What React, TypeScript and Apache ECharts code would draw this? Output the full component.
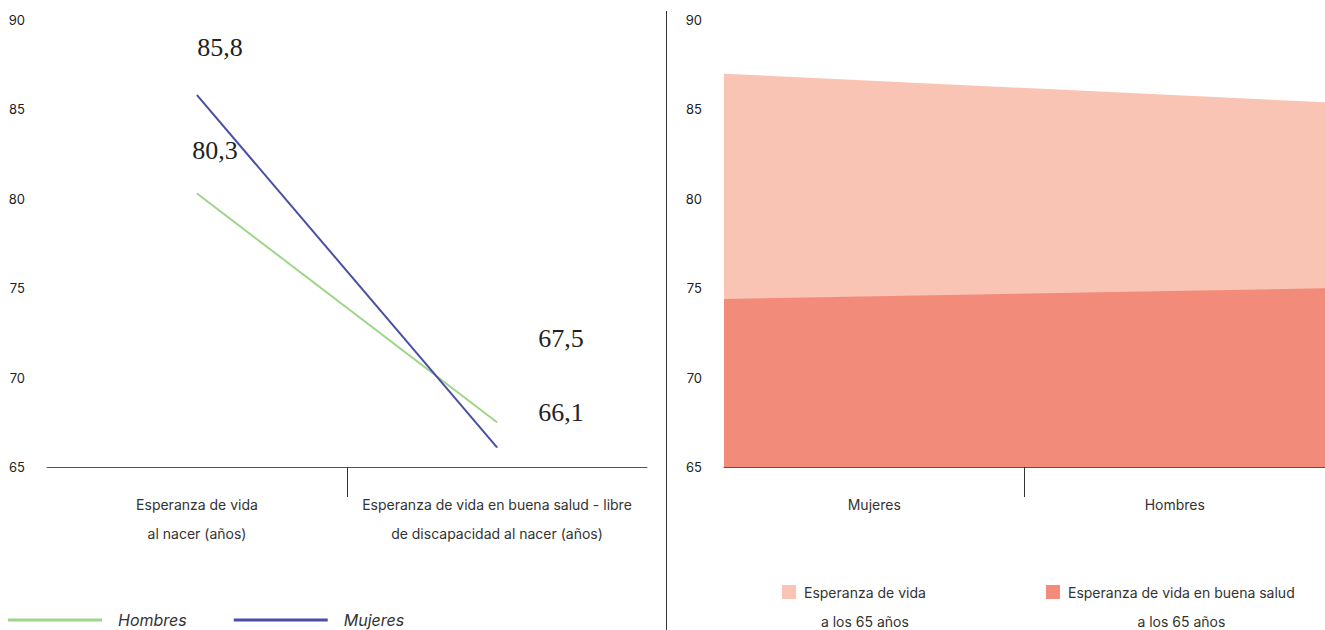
import React, { useEffect, useRef } from "react";
import * as echarts from "echarts";

// Left panel: life expectancy at birth, by sex
const birthCategories = [
  "Esperanza de vida\nal nacer (años)",
  "Esperanza de vida en buena salud - libre\nde discapacidad al nacer (años)",
];
const hombres = [80.3, 67.5];
const mujeres = [85.8, 66.1];

// Right panel: life expectancy at 65, by sex
const sexCategories = ["Mujeres", "Hombres"];
const esperanza65 = [87.0, 85.4];
const buenaSalud65 = [74.4, 75.0];

const yTicks = { min: 65, max: 90, interval: 5 };

const esperanzaName = "Esperanza de vida\na los 65 años";
const saludName = "Esperanza de vida en buena salud\na los 65 años";

// label offsets (px) for the value labels of each line, start and end
const hombresLabelOffsets = [
  [18, -43],
  [64, -84],
];
const mujeresLabelOffsets = [
  [23, -48],
  [64, -35],
];

const SANS = "Inter, 'Noto Sans', sans-serif";
const SERIF = "'Liberation Serif', 'DejaVu Serif', serif";
const GREEN = "#9fd58b";
const BLUE = "#4a4fa5";
const LIGHT = "#f9c4b4";
const DARK = "#f38b7b";

const fmt = (v: number) => String(v).replace(".", ",");

function withLabels(values: number[], offsets: number[][]) {
  return values.map((v, i) => ({
    value: v,
    label: {
      show: true,
      position: "inside",
      offset: offsets[i],
      formatter: () => fmt(v),
      fontFamily: SERIF,
      fontSize: 26,
      color: "#222",
    },
  }));
}

function yAxis(gridIndex: number) {
  return {
    type: "value",
    gridIndex,
    ...yTicks,
    axisLine: { show: false },
    axisTick: { show: false },
    splitLine: { show: false },
    axisLabel: { fontFamily: SANS, fontSize: 13, color: "#222", margin: 22 },
  };
}

function labelAxis(gridIndex: number, data: string[]) {
  return {
    type: "category",
    gridIndex,
    data,
    position: "bottom",
    boundaryGap: true,
    axisLine: { onZero: false, lineStyle: { color: "#555", width: 1 } },
    axisTick: { show: false },
    axisLabel: {
      fontFamily: SANS,
      fontSize: 14,
      color: "#333",
      lineHeight: 29,
      margin: 23,
      interval: 0,
    },
  };
}

// hidden value axis that only draws the middle divider tick
function tickAxis(gridIndex: number) {
  return {
    type: "value",
    gridIndex,
    min: 0,
    max: 2,
    position: "bottom",
    axisLine: { show: false, onZero: false },
    axisLabel: { show: false },
    splitLine: { show: false },
    axisTick: {
      show: true,
      customValues: [1],
      length: 30,
      lineStyle: { color: "#333", width: 1 },
    },
  };
}

const legendRich = {
  a: { align: "center", lineHeight: 29, fontFamily: SANS, fontSize: 14, color: "#333" },
};
const legendFormatter = (name: string) =>
  name
    .split("\n")
    .map((s) => `{a|${s}}`)
    .join("\n");

export default function App() {
  const ref = useRef<HTMLDivElement>(null);

  useEffect(() => {
    if (!ref.current) return;
    const chart = echarts.init(ref.current, null, { renderer: "svg" });
    chart.setOption({
      animation: false,
      backgroundColor: "#fff",
      grid: [
        { left: 47, top: 20, width: 600, height: 447 },
        { left: 724, top: 20, width: 601, height: 447 },
      ],
      xAxis: [
        labelAxis(0, birthCategories),
        tickAxis(0),
        labelAxis(1, sexCategories),
        {
          type: "category",
          gridIndex: 1,
          data: sexCategories,
          boundaryGap: false,
          position: "bottom",
          show: false,
        },
        tickAxis(1),
      ],
      yAxis: [yAxis(0), yAxis(1)],
      legend: [
        {
          data: ["Hombres", "Mujeres"],
          left: 3,
          top: 607,
          icon: "rect",
          itemWidth: 94,
          itemHeight: 3,
          itemGap: 47,
          textStyle: {
            fontFamily: SANS,
            fontSize: 16,
            fontStyle: "italic",
            color: "#333",
            padding: [0, 0, 0, 11],
          },
        },
        {
          data: [esperanzaName],
          left: 777,
          top: 580,
          icon: "rect",
          itemWidth: 14,
          itemHeight: 14,
          formatter: legendFormatter,
          textStyle: { padding: [29, 0, 0, 3], rich: legendRich },
        },
        {
          data: [saludName],
          left: 1041,
          top: 580,
          icon: "rect",
          itemWidth: 14,
          itemHeight: 14,
          formatter: legendFormatter,
          textStyle: { padding: [29, 0, 0, 3], rich: legendRich },
        },
      ],
      graphic: [
        {
          type: "line",
          shape: { x1: 666.5, y1: 11, x2: 666.5, y2: 630 },
          style: { stroke: "#333", lineWidth: 1 },
          silent: true,
        },
      ],
      series: [
        {
          name: "Hombres",
          type: "line",
          xAxisIndex: 0,
          yAxisIndex: 0,
          data: withLabels(hombres, hombresLabelOffsets),
          symbol: "circle",
          symbolSize: 1,
          itemStyle: { color: GREEN },
          lineStyle: { color: GREEN, width: 2 },
        },
        {
          name: "Mujeres",
          type: "line",
          xAxisIndex: 0,
          yAxisIndex: 0,
          data: withLabels(mujeres, mujeresLabelOffsets),
          symbol: "circle",
          symbolSize: 1,
          itemStyle: { color: BLUE },
          lineStyle: { color: BLUE, width: 2 },
        },
        {
          name: esperanzaName,
          type: "line",
          xAxisIndex: 3,
          yAxisIndex: 1,
          data: esperanza65,
          symbol: "none",
          itemStyle: { color: LIGHT },
          lineStyle: { width: 0 },
          areaStyle: { color: LIGHT, opacity: 1, origin: "start" },
        },
        {
          name: saludName,
          type: "line",
          xAxisIndex: 3,
          yAxisIndex: 1,
          data: buenaSalud65,
          symbol: "none",
          itemStyle: { color: DARK },
          lineStyle: { width: 0 },
          areaStyle: { color: DARK, opacity: 1, origin: "start" },
        },
      ],
    });
    return () => chart.dispose();
  }, []);

  return (
    <div
      ref={ref}
      style={{ position: "fixed", left: 0, top: 0, width: 1325, height: 630 }}
    />
  );
}
